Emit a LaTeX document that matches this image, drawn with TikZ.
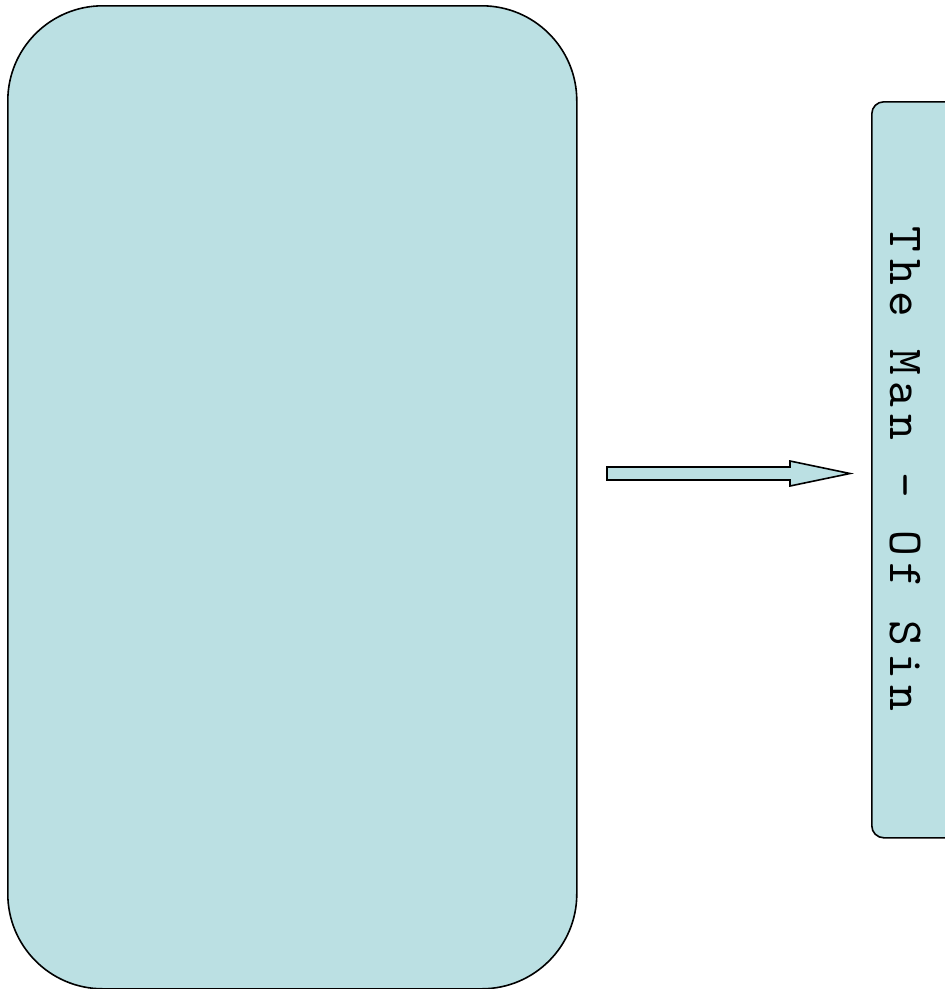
\documentclass[tikz,border=0pt]{standalone}
\usepackage{fontspec}
\definecolor{boxfill}{RGB}{187,224,227}
\newfontfamily\lmmonospaced[Extension=.otf,LetterSpace=13.5]{lmmono10-regular}
\newcommand{\labelfont}{\lmmonospaced\fontsize{49}{49}\selectfont}
\begin{document}
\begin{tikzpicture}[x=1pt,y=-1pt,
  panel/.style={draw=black,line width=1.6pt,fill=boxfill},
  blockarrow/.style={draw=black,line width=1.6pt,fill=boxfill,line join=miter}]
\useasboundingbox (0,0) rectangle (945,989);
% large empty panel
\node[panel,rounded corners=95pt,minimum width=569pt,minimum height=983pt,inner sep=0pt,anchor=north west] (big) at (7,5) {};
% right panel (cut off at the right edge)
\node[panel,rounded corners=12pt,minimum width=100pt,minimum height=736pt,inner sep=0pt,anchor=north west] (side) at (871,101) {};
\node[rotate=-90,anchor=base,inner sep=0pt,font=\labelfont] (label) at (890,469) {The Man – Of Sin};
% block arrow
\coordinate (a0) at (607,467);
\draw[blockarrow] (a0) -- (790,467) -- (790,461) -- (850,473.5) -- (790,486) -- (790,480) -- (607,480) -- cycle;
\end{tikzpicture}
\end{document}
